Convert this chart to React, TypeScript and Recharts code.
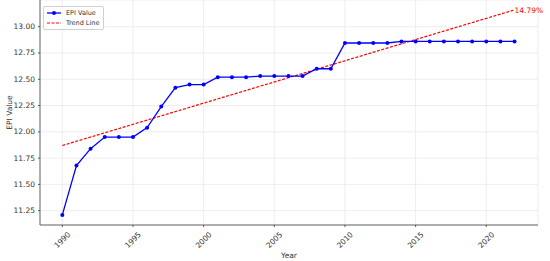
import React from "react";
import {
  LineChart,
  Line,
  XAxis,
  YAxis,
  CartesianGrid,
  ReferenceDot,
} from "recharts";

const years = [
  1990, 1991, 1992, 1993, 1994, 1995, 1996, 1997, 1998, 1999, 2000, 2001,
  2002, 2003, 2004, 2005, 2006, 2007, 2008, 2009, 2010, 2011, 2012, 2013,
  2014, 2015, 2016, 2017, 2018, 2019, 2020, 2021, 2022,
];

const epiValues = [
  11.21, 11.68, 11.84, 11.95, 11.95, 11.95, 12.04, 12.24, 12.42, 12.45, 12.45,
  12.52, 12.52, 12.52, 12.53, 12.53, 12.53, 12.53, 12.6, 12.6, 12.845, 12.845,
  12.845, 12.845, 12.86, 12.86, 12.86, 12.86, 12.86, 12.86, 12.86, 12.86, 12.86,
];

// trend line endpoints
const trendStart = 11.87;
const trendEnd = 13.16;
const trendLabel = "14.79%";

const xTicks = [1990, 1995, 2000, 2005, 2010, 2015, 2020];
const yTicks = [11.25, 11.5, 11.75, 12.0, 12.25, 12.5, 12.75, 13.0];

const FONT = "DejaVu Sans, sans-serif";

const data = years.map((year, i) => ({
  year,
  epi: epiValues[i],
  trend: i === 0 ? trendStart : i === years.length - 1 ? trendEnd : null,
}));

const XTick = ({ x, y, payload }: any) => (
  <text
    x={x}
    y={y + 11}
    transform={`rotate(-45, ${x}, ${y + 11})`}
    textAnchor="middle"
    dominantBaseline="central"
    fontSize={7.5}
    fill="#333"
    fontFamily={FONT}
  >
    {payload.value}
  </text>
);

const YTick = ({ x, y, payload }: any) => (
  <text
    x={x - 1}
    y={y}
    textAnchor="end"
    dominantBaseline="central"
    fontSize={7.5}
    fill="#333"
    fontFamily={FONT}
  >
    {payload.value.toFixed(2)}
  </text>
);

const LegendBox = () => (
  <div
    style={{
      position: "absolute",
      left: 43,
      top: 6,
      border: "1px solid #d0d0d0",
      borderRadius: 2,
      background: "rgba(255,255,255,0.85)",
      padding: "1px 4px 1px 3px",
      fontFamily: FONT,
      fontSize: 6.5,
      color: "#333",
      lineHeight: "10px",
    }}
  >
    <div style={{ display: "flex", alignItems: "center" }}>
      <svg width={14} height={10}>
        <line x1={0} y1={5} x2={14} y2={5} stroke="#0000ff" strokeWidth={1.3} />
        <circle cx={7} cy={5} r={2} fill="#0000ff" />
      </svg>
      <span style={{ marginLeft: 5 }}>EPI Value</span>
    </div>
    <div style={{ display: "flex", alignItems: "center" }}>
      <svg width={14} height={10}>
        <line
          x1={0}
          y1={5}
          x2={14}
          y2={5}
          stroke="#ff0000"
          strokeWidth={1.2}
          strokeDasharray="3 1.5"
        />
      </svg>
      <span style={{ marginLeft: 5 }}>Trend Line</span>
    </div>
  </div>
);

const YLabel = ({ viewBox }: any) => {
  const cy = viewBox.y + viewBox.height / 2;
  return (
    <text
      x={9}
      y={cy}
      transform={`rotate(-90, 9, ${cy})`}
      textAnchor="middle"
      dominantBaseline="central"
      fontSize={7.5}
      fill="#333"
      fontFamily={FONT}
    >
      EPI Value
    </text>
  );
};

export default function App() {
  return (
    <div style={{ position: "absolute", left: 0, top: 0, width: 550, height: 261 }}>
      <LineChart
        width={550}
        height={261}
        data={data}
        margin={{ top: 0, right: 12, left: 0, bottom: 0 }}
      >
        <CartesianGrid stroke="#e8e8e8" strokeWidth={0.8} />
        <XAxis
          dataKey="year"
          type="number"
          domain={[1988.42, 2023.66]}
          ticks={xTicks}
          allowDataOverflow
          height={36}
          tick={<XTick />}
          tickLine={{ stroke: "#555" }}
          tickSize={2}
          axisLine={{ stroke: "#666", strokeWidth: 1 }}
          label={{
            value: "Year",
            position: "insideBottom",
            offset: 3,
            fontSize: 7.5,
            fill: "#333",
            fontFamily: FONT,
          }}
        />
        <YAxis
          type="number"
          domain={[11.114, 13.254]}
          ticks={yTicks}
          allowDataOverflow
          width={40}
          tick={<YTick />}
          tickLine={{ stroke: "#555" }}
          tickSize={2}
          axisLine={{ stroke: "#666", strokeWidth: 1 }}
          label={<YLabel />}
        />
        <Line
          dataKey="trend"
          stroke="#ff0000"
          strokeWidth={1.2}
          strokeDasharray="3 1.5"
          dot={false}
          connectNulls
          isAnimationActive={false}
        />
        <Line
          dataKey="epi"
          stroke="#0000ff"
          strokeWidth={1.3}
          dot={{ r: 2, fill: "#0000ff", stroke: "none" }}
          isAnimationActive={false}
        />
        <ReferenceDot
          x={2022}
          y={trendEnd}
          r={0}
          stroke="none"
          label={{
            value: trendLabel,
            position: "right",
            offset: 0,
            fontSize: 7.5,
            fill: "#ff0000",
            fontFamily: FONT,
          }}
        />
      </LineChart>
      <LegendBox />
    </div>
  );
}
